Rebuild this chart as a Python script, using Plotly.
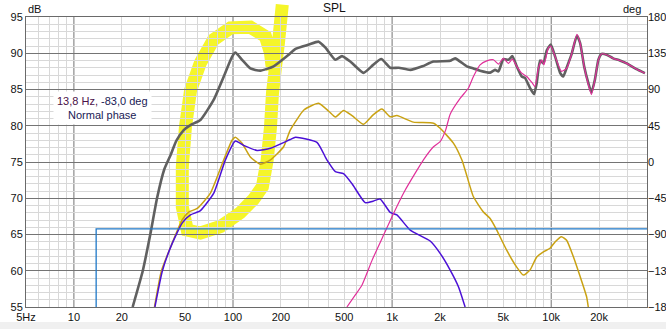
import numpy as np
import plotly.graph_objects as go

# ---------------- data ----------------
sum_freq = [23.4, 27.1, 30.2, 33.3, 37, 40.6, 44, 49, 54, 62.4, 75.7, 87.5, 98.6, 103.5, 114, 128.5,
            148.6, 180, 224, 247, 300, 345, 380, 440, 484, 550, 661, 760, 855, 973, 1100, 1300, 1550,
            1820, 2317, 2489, 2950, 3245, 3573, 4131, 4436, 4660, 5004, 5385, 5705, 6070, 6530, 6840,
            7360, 7800, 8110, 8510, 8930, 9380, 9940, 10600, 11400, 11900, 12600, 13400, 14500, 15200,
            16100, 17100, 17900, 18800, 19800, 20700, 22300, 24500, 27000, 29800, 34400, 38800]
sum_db = [55, 60, 65, 70, 74.0, 76.0, 77.9, 79.4, 80.1, 80.8, 83.6, 86.8, 89.5, 90.1, 89.1, 87.9,
          87.6, 88.2, 89.8, 90.6, 91.2, 91.6, 90.8, 89.1, 89.6, 88.8, 87.3, 88.4, 89.2, 88.0, 88.0, 87.7, 88.2,
          88.85, 88.95, 89.3, 88.2, 87.9, 87.6, 87.33, 87.7, 87.5, 89.2, 89.1, 89.6, 88.2, 86.8, 86.6,
          85.2, 84.35, 85.9, 89.0, 88.6, 90.4, 91.2, 89.5, 87.25, 86.8, 88.2, 89.8, 92.4, 91.4,
          88.2, 85.9, 84.6, 86.3, 89.1, 89.9, 89.8, 89.3, 89.0, 88.6, 87.8, 87.25]

woofer_freq = [32.1, 35.5, 40.6, 47.9, 52.7, 59.6, 72.1, 87.5, 98.6, 103.5, 114, 128.5, 148.6, 172, 208,
               229, 280, 345, 400, 440, 495, 560, 661, 760, 863, 973, 1072, 1361, 1820, 2004, 2428,
               2742, 2877, 3245, 3750, 4131, 4547, 5260, 6070, 6683, 7360, 8110, 8930, 9830, 10600,
               11600, 12500, 13800, 15200, 16700, 17100]
woofer_db = [55, 60, 63.3, 67, 68.1, 68.6, 70.7, 75.3, 78.0, 78.4, 77.6, 75.7, 74.7, 75.3, 77.1,
             79.4, 82.2, 83.1, 82.0, 81.2, 82.1, 81.4, 80.2, 81.5, 82.3, 81.25, 81.4, 80.5, 80.34, 79.65, 77.6,
             75.3, 73.9, 70.2, 68.1, 67.2, 65.6, 62.8, 60.5, 59.4, 60.1, 61.9, 62.6, 63.1, 64.0,
             64.7, 64.2, 61.9, 59.2, 56.4, 55]

filtered_freq = [32.3, 36, 41, 48, 54, 62.4, 75.7, 89.6, 103.5, 116.7, 141.6, 172, 229, 247, 337,
                 389, 440, 495, 560, 677, 760, 841, 973, 1072, 1300, 1734, 2004, 2317, 2612, 2877]
filtered_db = [55, 60, 63.5, 66.6, 67.7, 68.3, 70.7, 75.3, 77.9, 77.3, 76.6, 76.9, 78.1, 78.4, 77.7,
               75.3, 73.66, 73.4, 72.0, 69.4, 69.6, 69.9, 68.05, 67.7, 65.6, 64.1, 62.4, 60.1, 57.8, 55]

tweeter_freq = [520, 580, 646, 750, 905, 1021, 1200, 1400, 1574, 1820, 2004, 2170, 2317, 2683, 3020,
                3245, 3573, 3937, 4335, 4660, 5004, 5385, 5705, 6070, 6530, 7018, 7600, 7900, 8300,
                8730, 9000, 9590, 9940, 10600, 11600, 12500, 13400, 14500, 15200, 16100, 17100, 17900,
                18800, 19800, 20700, 22300, 24500, 27000, 29800, 34400, 38800]
tweeter_db = [55, 56.5, 58, 61.5, 65.4, 67.9, 71, 73.5, 75.3, 77.1, 77.8, 79.4, 81.6, 83.8, 85.2,
              86.8, 88.4, 88.95, 89.1, 88.5, 89.3, 88.6, 89.2, 88.2, 87.25, 86.8, 85.9, 85.4, 87.9,
              89.1, 88.4, 90.7, 91.0, 89.5, 87.5, 87.9, 89.8, 92.6, 91.4, 88.2, 85.7, 84.3,
              86.3, 89.1, 89.9, 89.8, 89.3, 89.0, 88.6, 87.8, 87.25]

cursor_freq = 13.8
cursor_deg = -83.0

# freehand yellow highlight (freq, dB)
highlight_freq = [204, 193, 185, 177, 172, 164, 153, 134, 111, 83.4, 62.4, 51.6, 48.0, 48.0, 50.2,
                  54.1, 62.4, 75.3, 96.4, 128.5, 160, 172, 177]
highlight_db = [96.7, 91.4, 88.1, 84.5, 79.8, 75.3, 71.6, 69.8, 68.0, 66.1, 65.2, 65.6, 68.8, 74.3,
                79.8, 84.9, 88.7, 91.85, 93.5, 93.6, 92.3, 90.05, 87.7]

x_tickvals = [5, 10, 20, 50, 100, 200, 500, 1000, 2000, 5000, 10000, 20000]
x_ticktext = ['5Hz', '10', '20', '50', '100', '200', '500', '1k', '2k', '5k', '10k', '20k']
db_ticks = [55, 60, 65, 70, 75, 80, 85, 90, 95]
deg_ticks = [-180, -135, -90, -45, 0, 45, 90, 135, 180]

F_MIN, F_MAX = 5, 40000
DB_MIN, DB_MAX = 55, 95

# ---------------- figure ----------------
fig = go.Figure()
FONT = "Liberation Sans, Arial, sans-serif"

def add_curve(fx, fy, color, width, name):
    fig.add_trace(go.Scatter(x=fx, y=fy, mode='lines', name=name,
                             line=dict(color=color, width=width, shape='spline', smoothing=0.5),
                             hoverinfo='skip', showlegend=False))

add_curve(sum_freq, sum_db, '#606060', 2.6, 'Sum')
add_curve(woofer_freq, woofer_db, '#C9A213', 1.5, 'Woofer')
add_curve(filtered_freq, filtered_db, '#4B10D6', 1.5, 'Woofer filtered')
add_curve(tweeter_freq, tweeter_db, '#E0309A', 1.2, 'Tweeter')

fig.add_trace(go.Scatter(x=[cursor_freq, cursor_freq, F_MAX], y=[-180, cursor_deg, cursor_deg],
                         yaxis='y2', mode='lines', line=dict(color='#1F78C8', width=1.3),
                         hoverinfo='skip', showlegend=False))

# decade major grid lines
shapes = []
for d in [10, 100, 1000, 10000]:
    shapes.append(dict(type='line', xref='x', yref='paper', x0=d, x1=d, y0=0, y1=1,
                       line=dict(color='#747474', width=1), layer='between'))

# yellow highlight as path in paper coords
lx0, lx1 = np.log10(F_MIN), np.log10(F_MAX)
px = [(np.log10(f) - lx0) / (lx1 - lx0) for f in highlight_freq]
py = [(v - DB_MIN) / (DB_MAX - DB_MIN) for v in highlight_db]
path = 'M ' + ' L '.join(f'{a:.4f},{b:.4f}' for a, b in zip(px, py))
shapes.append(dict(type='path', xref='paper', yref='paper', path=path,
                   line=dict(color='#F5F52A', width=13), layer='between'))

# bottom window strip
shapes.append(dict(type='rect', xref='paper', yref='paper', x0=-0.05, x1=1.05, y0=-0.0517, y1=-0.09,
                   fillcolor='#F0F0F0', line=dict(width=0), layer='below'))

minor_x = []
for dec in [1, 10, 100, 1000, 10000]:
    for m in range(2, 10):
        v = m * dec
        if F_MIN < v < F_MAX:
            minor_x.append(v)

annotations = [
    dict(text='SPL', xref='paper', yref='paper', x=0.497, y=1, yanchor='bottom', showarrow=False,
         font=dict(size=12, color='#111111', family=FONT), yshift=0),
    dict(text='dB', xref='paper', yref='paper', x=0.0, y=1, xanchor='left', yanchor='bottom',
         showarrow=False, font=dict(size=11, color='#111111', family=FONT), xshift=0),
    dict(text='deg', xref='paper', yref='paper', x=0.9936, y=1, xanchor='right', yanchor='bottom',
         showarrow=False, font=dict(size=11, color='#111111', family=FONT)),
    dict(text="<span style='color:#4a1048'>13,8 Hz,</span> -83,0 deg<br>Normal phase",
         xref='paper', yref='paper', x=0.1224, y=0.686, xanchor='center', yanchor='middle',
         showarrow=False, bgcolor='white', borderpad=3,
         font=dict(size=11, color='#1a1a55', family=FONT)),
]

fig.update_layout(
    width=666, height=329,
    margin=dict(l=26, r=19, t=17, b=22, autoexpand=False),
    paper_bgcolor='white', plot_bgcolor='white',
    font=dict(family=FONT, size=11, color='#111111'),
    showlegend=False,
    shapes=shapes,
    annotations=annotations,
    xaxis=dict(type='log', range=[lx0, lx1], tickvals=x_tickvals, ticktext=x_ticktext,
               showgrid=False, zeroline=False, showline=True, mirror=True, automargin=False,
               linecolor='#6a6a6a', linewidth=1, ticks='', tickfont=dict(size=11),
               minor=dict(tickvals=minor_x, showgrid=True, gridcolor='#D8D8D8', gridwidth=1, ticks='')),
    yaxis=dict(range=[DB_MIN, DB_MAX], tickvals=db_ticks, showgrid=True, gridcolor='#747474',
               gridwidth=1, zeroline=False, showline=True, mirror=True, linecolor='#6a6a6a',
               linewidth=1, ticks='', tickfont=dict(size=11), automargin=False,
               minor=dict(dtick=1, showgrid=True, gridcolor='#D8D8D8', gridwidth=1, ticks='')),
    yaxis2=dict(range=[-180, 180], tickvals=deg_ticks, overlaying='y', side='right', automargin=False,
                showgrid=False, zeroline=False, showline=False, ticks='', tickfont=dict(size=11)),
)

fig.write_html('out.html')
